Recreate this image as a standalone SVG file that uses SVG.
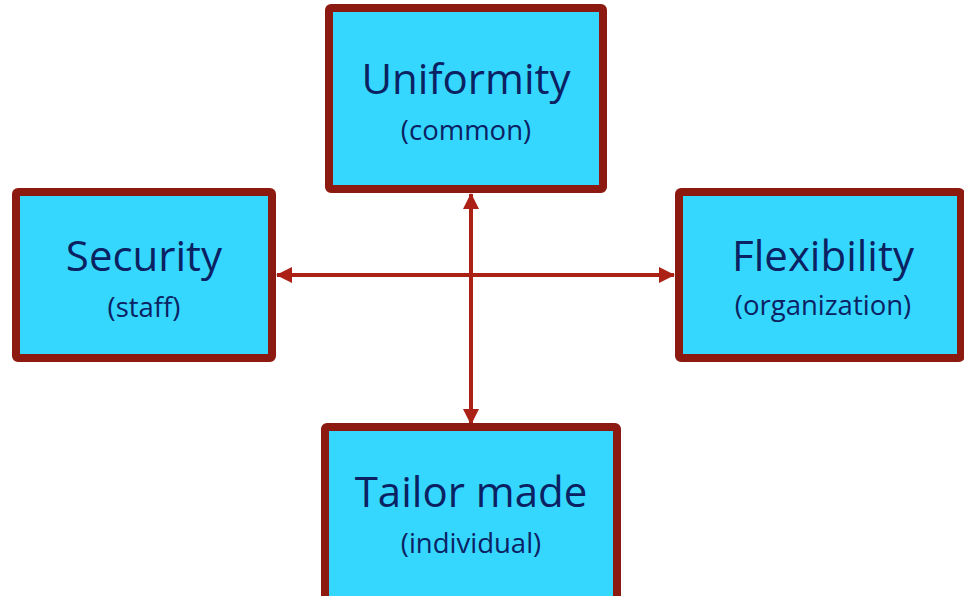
<svg xmlns="http://www.w3.org/2000/svg" width="964" height="596" viewBox="0 0 964 596">
<defs>
<style>
.box{fill:#35d7ff;stroke:#8c1a10;stroke-width:8;stroke-linejoin:round}
.t{font-family:"Open Sans","Liberation Sans",sans-serif;fill:#0b2262;text-anchor:middle}
.big{font-size:42px}
.small{font-size:27.5px}
.c{stroke:#ab2116;stroke-width:4;fill:none}
</style>
<marker id="ah" viewBox="0 0 16 16" refX="15" refY="8" markerWidth="16" markerHeight="16" markerUnits="userSpaceOnUse" orient="auto-start-reverse">
<path d="M0,0 L16,8 L0,16 Z" fill="#ab2116"/>
</marker>
</defs>
<rect width="964" height="596" fill="#ffffff"/>
<g id="connectors">
<line class="c" x1="471" y1="194" x2="471" y2="424" marker-start="url(#ah)" marker-end="url(#ah)"/>
<line class="c" x1="277" y1="275" x2="674" y2="275" marker-start="url(#ah)" marker-end="url(#ah)"/>
</g>
<g id="uniformity">
<rect class="box" x="329" y="8" width="274" height="181" rx="2"/>
<text class="t big" x="466" y="94">Uniformity</text>
<text class="t small" x="466" y="140">(common)</text>
</g>
<g id="security">
<rect class="box" x="16" y="192" width="256" height="166" rx="2"/>
<text class="t big" x="144" y="271">Security</text>
<text class="t small" x="144" y="317">(staff)</text>
</g>
<g id="flexibility">
<rect class="box" x="679" y="192" width="282" height="166" rx="2"/>
<text class="t big" x="823" y="271">Flexibility</text>
<text class="t small" x="823" y="315">(organization)</text>
</g>
<g id="tailor">
<rect class="box" x="325" y="427" width="292" height="175" rx="2"/>
<text class="t big" x="471" y="507">Tailor made</text>
<text class="t small" x="471" y="553">(individual)</text>
</g>
</svg>
